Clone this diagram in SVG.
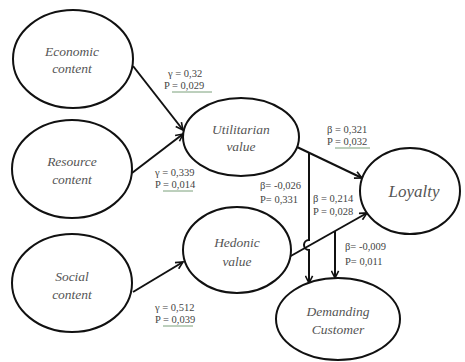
<svg xmlns="http://www.w3.org/2000/svg" width="465" height="362" viewBox="0 0 465 362">
<defs>
<marker id="ah" viewBox="0 0 10 10" refX="9" refY="5" markerWidth="9" markerHeight="9" markerUnits="userSpaceOnUse" orient="auto">
<path d="M1,1 L9,5 L1,9" fill="none" stroke="#111" stroke-width="1.8"/>
</marker>
<style>
.n{fill:#fff;stroke:#111;stroke-width:2}
.t{font-family:"Liberation Serif",serif;font-style:italic;font-size:13.5px;fill:#555;text-anchor:middle}
.l{font-family:"Liberation Serif",serif;font-size:10.5px;fill:#444}
.c{fill:none;stroke:#111;stroke-width:2}
.a{marker-end:url(#ah)}
.u{stroke:#7aa07a;stroke-width:1}
</style>
</defs>
<rect width="465" height="362" fill="#fff"/>
<g id="connectors">
<path class="c a" d="M133,66 L183,130"/>
<path class="c a" d="M132,173 L183,134"/>
<path class="c a" d="M133,292 L183,262"/>
<path class="c a" d="M297,147 L362,178"/>
<path class="c a" d="M289,257 L367,213"/>
<path class="c a" d="M309,152 V240 A5,5 0 0 0 309,250 V283"/>
<path class="c a" d="M335,231 V278"/>
</g>
<g id="economic"><ellipse class="n" cx="73" cy="59" rx="60" ry="49"/><text class="t" x="72" y="56">Economic</text><text class="t" x="72" y="73">content</text></g>
<g id="resource"><ellipse class="n" cx="72" cy="169" rx="60" ry="49"/><text class="t" x="72" y="166">Resource</text><text class="t" x="72" y="184">content</text></g>
<g id="social"><ellipse class="n" cx="72" cy="283" rx="60" ry="49"/><text class="t" x="72" y="281">Social</text><text class="t" x="72" y="299">content</text></g>
<g id="utilitarian"><ellipse class="n" cx="241" cy="137" rx="58" ry="39"/><text class="t" x="241" y="134">Utilitarian</text><text class="t" x="241" y="151">value</text></g>
<g id="hedonic"><ellipse class="n" cx="237" cy="250" rx="54" ry="43"/><text class="t" x="237" y="247">Hedonic</text><text class="t" x="237" y="266">value</text></g>
<g id="loyalty"><ellipse class="n" cx="410" cy="191" rx="50" ry="43"/><text class="t" x="414" y="197" style="font-size:17px">Loyalty</text></g>
<g id="demanding"><ellipse class="n" cx="338" cy="319" rx="62" ry="41"/><text class="t" x="338" y="316">Demanding</text><text class="t" x="338" y="334">Customer</text></g>
<g id="labels">
<text class="l" x="168" y="77">γ = 0,32</text>
<text class="l" x="164" y="89">P = 0,029</text>
<line class="u" x1="172" y1="92" x2="212" y2="92"/>
<text class="l" x="155" y="176">γ = 0,339</text>
<text class="l" x="155" y="188">P = 0,014</text>
<line class="u" x1="163" y1="191" x2="193" y2="191"/>
<text class="l" x="155" y="311">γ = 0,512</text>
<text class="l" x="155" y="323">P = 0,039</text>
<line class="u" x1="163" y1="326" x2="193" y2="326"/>
<text class="l" x="327" y="133">β = 0,321</text>
<text class="l" x="327" y="145">P = 0,032</text>
<line class="u" x1="335" y1="148" x2="370" y2="148"/>
<text class="l" x="260" y="189">β= -0,026</text>
<text class="l" x="260" y="203">P= 0,331</text>
<text class="l" x="313" y="202">β = 0,214</text>
<text class="l" x="313" y="215">P = 0,028</text>
<text class="l" x="345" y="250">β= -0,009</text>
<text class="l" x="345" y="265">P= 0,011</text>
</g>
</svg>
